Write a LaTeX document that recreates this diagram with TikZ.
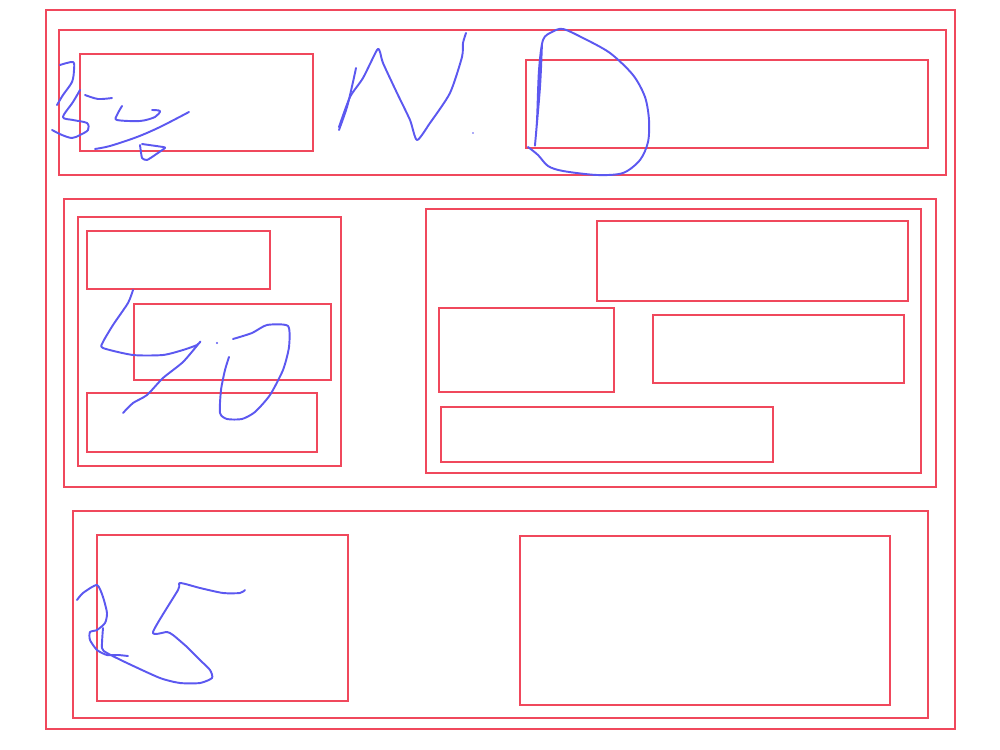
\documentclass[tikz,border=0pt]{standalone}
\definecolor{boxred}{RGB}{240,72,92}
\definecolor{penblue}{RGB}{92,88,240}
\begin{document}
\begin{tikzpicture}[x=0.02cm,y=-0.02cm,
  frame/.style={draw=boxred,line width=1.2pt},
  pen/.style={draw=penblue,line width=1.1pt,line cap=round,line join=round}]
\useasboundingbox (0,0) rectangle (1000,750);
% page and sections
\draw[frame] (46,10) rectangle (955,729);
\draw[frame] (59,30) rectangle (946,175);
\draw[frame] (80,54) rectangle (313,151);
\draw[frame] (526,60) rectangle (928,148);
\draw[frame] (64,199) rectangle (936,487);
\draw[frame] (78,217) rectangle (341,466);
\draw[frame] (87,231) rectangle (270,289);
\draw[frame] (134,304) rectangle (331,380);
\draw[frame] (87,393) rectangle (317,452);
\draw[frame] (426,209) rectangle (921,473);
\draw[frame] (597,221) rectangle (908,301);
\draw[frame] (439,308) rectangle (614,392);
\draw[frame] (653,315) rectangle (904,383);
\draw[frame] (441,407) rectangle (773,462);
\draw[frame] (73,511) rectangle (928,718);
\draw[frame] (97,535) rectangle (348,701);
\draw[frame] (520,536) rectangle (890,705);
% handwriting, top row
\draw[pen] plot[smooth,tension=0.5] coordinates {(60,65) (73,62) (74,70) (72,82) (63,95) (57,105)};
\draw[pen] plot[smooth,tension=0.5] coordinates {(80,90) (73,102) (63,117) (73,120) (87,123) (88,130) (80,135) (72,138) (62,135) (52,130)};
\draw[pen] plot[smooth,tension=0.5] coordinates {(85,95) (98,99) (112,98)};
\draw[pen] plot[smooth,tension=0.5] coordinates {(122,106) (117,115) (117,120) (140,121) (155,117) (160,111) (152,110)};
\draw[pen] plot[smooth,tension=0.5] coordinates {(95,149) (110,146) (137,137) (160,127) (189,112)};
\draw[pen] plot[smooth,tension=0.3] coordinates {(140,145) (142,158) (147,160) (155,155) (165,148) (163,147) (142,144)};
\draw[pen] plot[smooth,tension=0.5] coordinates {(356,68) (353,82) (347,107) (339,130)};
\draw[pen] plot[smooth,tension=0.4] coordinates {(339,127) (350,97) (363,78) (377,50) (380,52) (383,63) (397,93) (410,120) (417,140) (430,123) (450,93) (462,57) (463,43) (466,33)};
\fill[penblue] (473,133) circle (0.8);
\draw[pen] plot[smooth,tension=0.5] coordinates {(542,43) (540,87) (535,145) (537,120) (539,70) (543,40) (552,32) (563,29) (583,38) (610,53) (633,75) (645,97) (649,120) (648,142) (640,160) (623,173) (597,175) (563,171) (548,166) (538,155) (528,147)};
% handwriting, middle row
\draw[pen] plot[smooth,tension=0.4] coordinates {(133,290) (128,303) (113,325) (103,342) (103,348) (133,355) (163,355) (183,350) (197,345) (200,342) (183,362) (163,378) (147,395) (133,403) (123,413)};
\fill[penblue] (217,343) circle (1.2);
\draw[pen] plot[smooth,tension=0.4] coordinates {(233,339) (252,333) (267,325) (288,326) (289,347) (283,370) (270,395) (255,412) (242,419) (227,419) (220,413) (221,390) (225,370) (229,357)};
% handwriting, bottom row
\draw[pen] plot[smooth,tension=0.4] coordinates {(77,600) (83,593) (97,585) (103,597) (107,613) (105,623) (97,630) (90,632) (90,640) (97,650) (107,655) (118,655) (128,656)};
\draw[pen] plot[smooth,tension=0.4] coordinates {(103,628) (102,648) (107,653) (127,663) (160,678) (180,683) (200,683) (212,678) (210,670) (200,660) (187,647) (173,635) (167,632) (153,632) (178,590) (180,583) (200,588) (223,593) (240,593) (245,590)};
\end{tikzpicture}
\end{document}
